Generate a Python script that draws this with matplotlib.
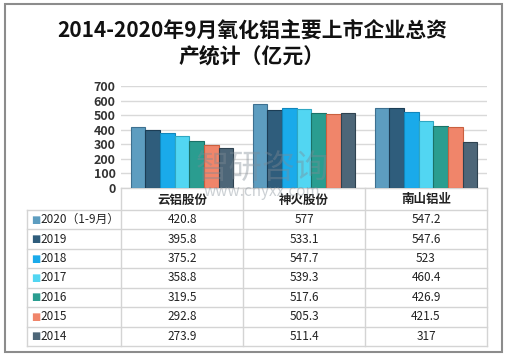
import matplotlib
matplotlib.use("Agg")
import matplotlib.pyplot as plt
import matplotlib.transforms as mtransforms
from matplotlib.patches import Rectangle
import numpy as np

plt.rcParams['font.family'] = ['Noto Sans CJK SC', 'DejaVu Sans']

# data
companies = ["云铝股份", "神火股份", "南山铝业"]
years = ["2020（1-9月）", "2019", "2018", "2017", "2016", "2015", "2014"]
v2020 = [420.8, 577, 547.2]
v2019 = [395.8, 533.1, 547.6]
v2018 = [375.2, 547.7, 523]
v2017 = [358.8, 539.3, 460.4]
v2016 = [319.5, 517.6, 426.9]
v2015 = [292.8, 505.3, 421.5]
v2014 = [273.9, 511.4, 317]
series = [v2020, v2019, v2018, v2017, v2016, v2015, v2014]

colors = ["#5d9dc0", "#2f5d7c", "#1aaaea", "#52d6f2", "#2a9d90", "#f0856a", "#4d6678"]
edges = ["#3d7090", "#1c3d55", "#1286bb", "#2fa7c2", "#1a7268", "#c9603f", "#2e4250"]

W, H = 507, 356
fig = plt.figure(figsize=(W / 100, H / 100), dpi=100)

# outer border
fig.patches.append(Rectangle((5 / W, 4 / H), 497 / W, 348 / H, transform=fig.transFigure,
                             fill=False, edgecolor="#8c8c8c", linewidth=1.5))

fig.text(252 / W, 1 - 30 / H, "2014-2020年9月氧化铝主要上市企业总资", ha="center", va="center",
         fontsize=15, fontweight="bold", color="#111111")
fig.text(252 / W, 1 - 57 / H, "产统计（亿元）", ha="center", va="center",
         fontsize=15, fontweight="bold", color="#111111")

x0_px, x1_px = 121, 487
y0_px, ytop_px = 188, 86
ax = fig.add_axes([x0_px / W, 1 - y0_px / H, (x1_px - x0_px) / W, (y0_px - ytop_px) / H])

x = np.arange(len(companies))
bw = 0.12
n = len(series)
for i, (vals, c, ec) in enumerate(zip(series, colors, edges)):
    off = (i - (n - 1) / 2) * bw
    ax.bar(x + off, vals, width=bw, color=c, edgecolor=ec, linewidth=0.8, zorder=3)

ax.set_xlim(-0.5, 2.5)
ax.set_ylim(0, 700)
ax.set_yticks(range(0, 701, 100))
ax.tick_params(axis="y", length=0, labelsize=9, labelcolor="#333333", pad=4)
ax.set_xticks([])
for lbl in ax.get_yticklabels():
    lbl.set_fontweight("bold")
ax.grid(axis="y", color="#d9d9d9", linewidth=1, zorder=0)
for s in ax.spines.values():
    s.set_visible(False)

# data table below the plot
trans = mtransforms.blended_transform_factory(ax.transData, ax.transAxes)
ah = y0_px - ytop_px


def ya(py):
    return (y0_px - py) / ah


hdr_bottom = 210
row_h = (346 - 210) / len(years)
left_x = -0.5 - (x0_px - 27) / ((x1_px - x0_px) / 3)
line_c = "#d4d4d4"

# header row
ax.plot([-0.5, 2.5], [ya(y0_px), ya(y0_px)], transform=trans, color=line_c, lw=1, clip_on=False)
for i, name in enumerate(companies):
    ax.text(i, ya((y0_px + hdr_bottom) / 2 + 1), name, transform=trans, ha="center", va="center",
            fontsize=9, fontweight="bold", color="#222222", clip_on=False)
for b in [-0.5, 0.5, 1.5, 2.5]:
    ax.plot([b, b], [ya(y0_px), ya(346)], transform=trans, color=line_c, lw=1, clip_on=False)
ax.plot([left_x, left_x], [ya(hdr_bottom), ya(346)], transform=trans, color=line_c, lw=1, clip_on=False)
for r in range(len(years) + 1):
    py = hdr_bottom + r * row_h
    ax.plot([left_x, 2.5], [ya(py), ya(py)], transform=trans, color=line_c, lw=1, clip_on=False)

for r, (yr, vals, c, ec) in enumerate(zip(years, series, colors, edges)):
    cy = ya(hdr_bottom + (r + 0.5) * row_h)
    ax.text(left_x + 0.03, cy, "■", transform=trans, ha="left", va="center", fontsize=7,
            color=c, clip_on=False, family="DejaVu Sans")
    ax.text(left_x + 0.11, cy, yr, transform=trans, ha="left", va="center", fontsize=8.5,
            color="#222222", clip_on=False)
    for i, v in enumerate(vals):
        ax.text(i, cy, f"{v:g}", transform=trans, ha="center", va="center", fontsize=8.5,
                color="#222222", clip_on=False)

# watermark
fig.text(262 / W, 1 - 168 / H, "智研咨询", ha="center", va="center", fontsize=24,
         color="#7f8a94", alpha=0.4, zorder=10)
fig.text(262 / W, 1 - 191 / H, "www.chyxx.com", ha="center", va="center", fontsize=11,
         color="#7f8a94", alpha=0.4, zorder=10)

fig.savefig("out.png", dpi=100)
